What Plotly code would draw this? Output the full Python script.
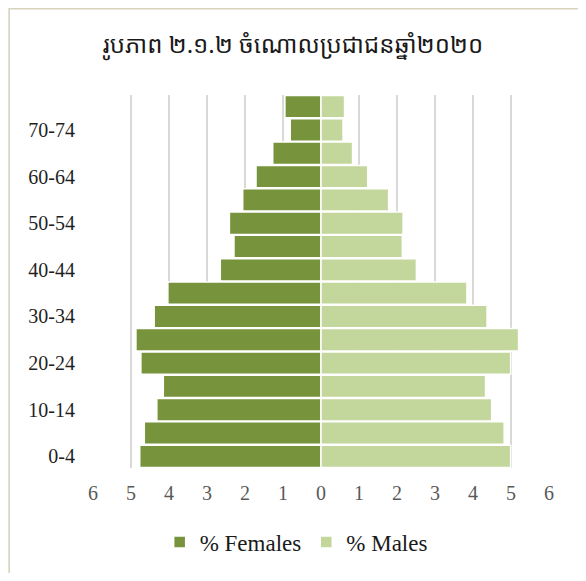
import plotly.graph_objects as go

age_groups = ["0-4", "5-9", "10-14", "15-19", "20-24", "25-29", "30-34", "35-39",
              "40-44", "45-49", "50-54", "55-59", "60-64", "65-69", "70-74", "75+"]
females = [4.77, 4.65, 4.32, 4.15, 4.74, 4.87, 4.39, 4.03,
           2.65, 2.29, 2.41, 2.06, 1.71, 1.27, 0.81, 0.95]
males = [4.99, 4.82, 4.49, 4.33, 4.99, 5.20, 4.37, 3.84,
         2.51, 2.14, 2.16, 1.78, 1.23, 0.83, 0.58, 0.62]
shown_labels = ["0-4", "10-14", "20-24", "30-34", "40-44", "50-54", "60-64", "70-74"]
x_ticks = [-6, -5, -4, -3, -2, -1, 0, 1, 2, 3, 4, 5, 6]
title = "រូបភាព ២.១.២ ចំណោលប្រជាជនឆ្នាំ២០២០"

SERIF = "Liberation Serif, Times New Roman, serif"

fig = go.Figure()
fig.add_trace(go.Bar(y=age_groups, x=[-v for v in females], orientation="h",
                     name="% Females", marker=dict(color="#77933C", line=dict(color="white", width=1.5))))
fig.add_trace(go.Bar(y=age_groups, x=males, orientation="h",
                     name="% Males", marker=dict(color="#C3D69B", line=dict(color="white", width=1.5))))

# page body has an 8px margin, so the figure is drawn 8px in from the window corner
OFF = 8
W, H = 570, 565
L, T = 92.7 - OFF, 95 - OFF
R = W - (549 - OFF)
B = H - (468 - OFF)
pw, ph = W - L - R, H - T - B


def px(x):
    return (x - OFF - L) / pw


def py(y):
    return (H - B - (y - OFF)) / ph


fig.update_layout(
    width=W, height=H,
    font=dict(family=SERIF),
    margin=dict(l=L, r=R, t=T, b=B, autoexpand=False),
    barmode="relative", bargap=0.04,
    plot_bgcolor="white", paper_bgcolor="white",
    title=dict(text=title, x=(293 - OFF) / W, xanchor="center", y=1 - (45 - OFF) / H, yanchor="middle",
               font=dict(family="Noto Sans Khmer, Khmer OS, Noto Sans", size=24, color="#1a1a1a")),
    xaxis=dict(range=[-6, 6], tickvals=x_ticks, ticktext=[str(abs(v)) for v in x_ticks],
               showgrid=True, gridcolor="#D9D9D9", gridwidth=1.5, zeroline=False,
               tickfont=dict(family=SERIF, size=20, color="#595959"),
               ticklabelstandoff=11, showline=False),
    yaxis=dict(type="category", categoryorder="array", categoryarray=age_groups,
               tickvals=shown_labels, ticktext=shown_labels, range=[-0.5, 15.5],
               showgrid=False, zeroline=False, showline=False,
               tickfont=dict(family=SERIF, size=20, color="#1f1f1f"),
               ticklabelstandoff=17),
    legend=dict(orientation="h", x=px(296), xanchor="center", y=py(542), yanchor="middle",
                font=dict(family=SERIF, size=23, color="#1a1a1a"),
                itemwidth=30, traceorder="normal"),
    showlegend=True,
    shapes=[dict(type="rect", xref="paper", yref="paper",
                 x0=px(OFF + 0.8), x1=px(582), y0=py(577), y1=py(OFF + 0.8),
                 line=dict(color="#D8D3BC", width=1.6), fillcolor="rgba(0,0,0,0)", layer="above")],
)

fig.write_html("out.html")
